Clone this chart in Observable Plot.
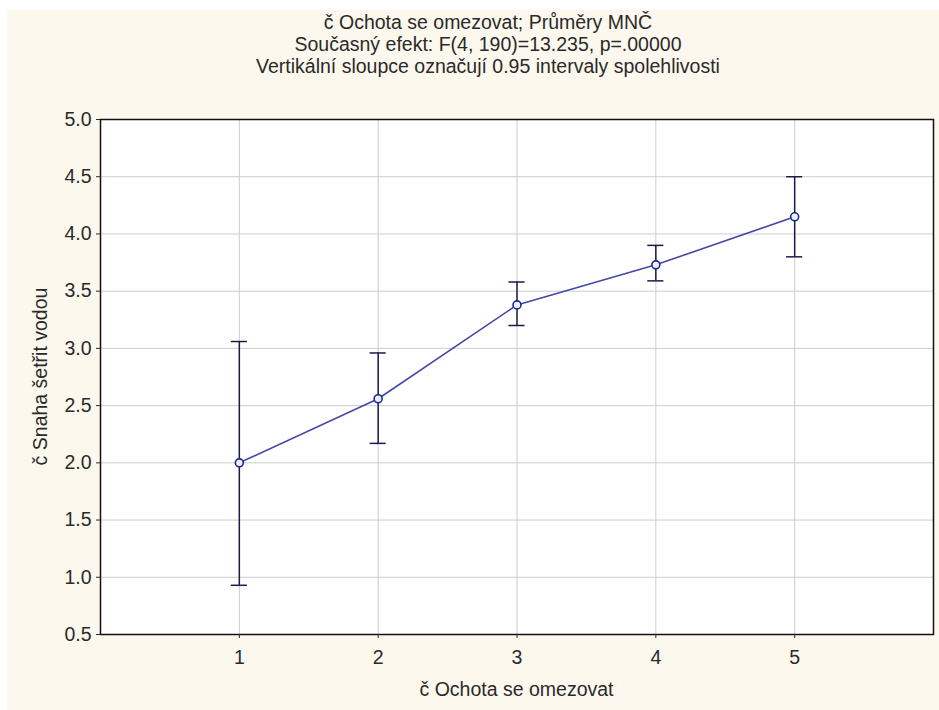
<!DOCTYPE html>
<html>
<head>
<meta charset="utf-8">
<script src="https://cdn.jsdelivr.net/npm/d3@7"></script>
<script src="https://cdn.jsdelivr.net/npm/@observablehq/plot@0.6"></script>
<style>
  html, body { margin: 0; padding: 0; background: #ffffff; }
  #chart { position: absolute; left: 7px; top: 10px; }
  svg { font-family: "Liberation Sans", Arial, sans-serif; }
</style>
</head>
<body>
<div id="chart"></div>
<script>
const categories = [1, 2, 3, 4, 5];
const means = [2.00, 2.56, 3.38, 3.73, 4.15];
const lower = [0.93, 2.17, 3.20, 3.59, 3.80];
const upper = [3.06, 2.96, 3.58, 3.90, 4.50];
const yTicks = [0.5, 1.0, 1.5, 2.0, 2.5, 3.0, 3.5, 4.0, 4.5, 5.0];
const titleLines = [
  "č Ochota se omezovat; Průměry MNČ",
  "Současný efekt: F(4, 190)=13.235, p=.00000",
  "Vertikální sloupce označují 0.95 intervaly spolehlivosti"
];
const xLabel = "č Ochota se omezovat";
const yLabel = "č Snaha šetřit vodou";

const FS = 19.5;
const data = categories.map((c, i) => ({x: c, m: means[i], lo: lower[i], hi: upper[i]}));
const capHalf = 0.058;

const plot = Plot.plot({
  width: 932,
  height: 700,
  marginLeft: 93,
  marginTop: 109,
  marginRight: 6,
  marginBottom: 76,
  style: {background: "#fcf8ee", fontSize: FS + "px", fontFamily: "Liberation Sans, Arial, sans-serif", color: "#2a2a2a"},
  x: {domain: [0, 6]},
  y: {domain: [0.5, 5.0]},
  marks: [
    Plot.frame({fill: "white"}),
    Plot.gridY(yTicks, {stroke: "#cdcdcd", strokeOpacity: 1}),
    Plot.gridX(categories, {stroke: "#cdcdcd", strokeOpacity: 1}),
    Plot.frame({stroke: "#111", strokeWidth: 1.5}),
    Plot.axisY(yTicks, {tickFormat: d => d.toFixed(1), tickSize: 4, tickPadding: 5, fontSize: FS, fill: "#2a2a2a", label: null}),
    Plot.axisX(categories, {tickFormat: d => String(d), tickSize: 4, tickPadding: 12, fontSize: FS, fill: "#2a2a2a", label: null}),
    Plot.ruleX(data, {x: "x", y1: "lo", y2: "hi", stroke: "#1b1b4a", strokeWidth: 1.5}),
    Plot.ruleY(data, {y: "lo", x1: d => d.x - capHalf, x2: d => d.x + capHalf, stroke: "#1b1b4a", strokeWidth: 1.5}),
    Plot.ruleY(data, {y: "hi", x1: d => d.x - capHalf, x2: d => d.x + capHalf, stroke: "#1b1b4a", strokeWidth: 1.5}),
    Plot.line(data, {x: "x", y: "m", stroke: "#4646a8", strokeWidth: 1.6}),
    Plot.dot(data, {x: "x", y: "m", r: 4, stroke: "#1c2a8c", fill: "#eef0ff", strokeWidth: 1.6})
  ]
});
document.getElementById("chart").appendChild(plot);

const svg = d3.select(plot);
const W = 932;
const cx = (93 + (W - 6)) / 2;
const titleX = 481;
const titleY = [14, 36, 58];
titleLines.forEach((t, i) => {
  svg.append("text").attr("x", titleX).attr("y", titleY[i]).attr("text-anchor", "middle")
    .attr("font-size", FS).attr("fill", "#2a2a2a").attr("dominant-baseline", "middle").text(t);
});
svg.append("text").attr("x", cx).attr("y", 681).attr("text-anchor", "middle")
  .attr("font-size", FS).attr("fill", "#2a2a2a").attr("dominant-baseline", "middle").text(xLabel);
svg.append("text").attr("transform", `translate(35, ${(109 + 624) / 2}) rotate(-90)`).attr("text-anchor", "middle")
  .attr("font-size", FS).attr("fill", "#2a2a2a").attr("dominant-baseline", "middle").text(yLabel);
</script>
</body>
</html>
